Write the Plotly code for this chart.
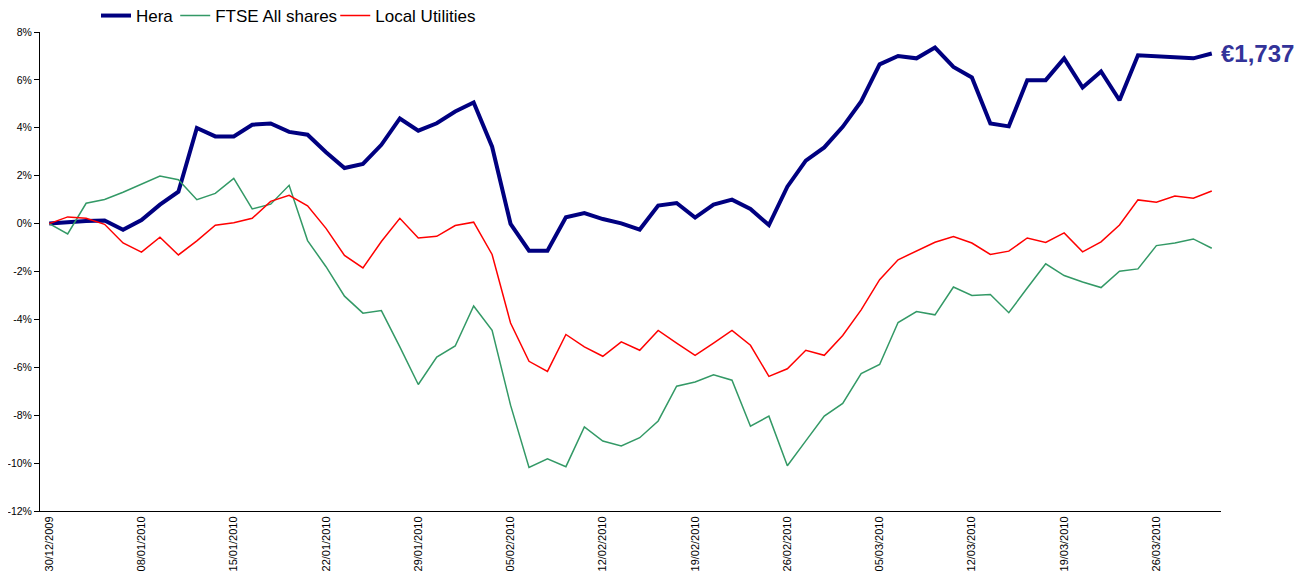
import plotly.graph_objects as go

dates = [
    "30/12/2009", "31/12/2009", "04/01/2010", "05/01/2010", "07/01/2010",
    "08/01/2010", "11/01/2010", "12/01/2010", "13/01/2010", "14/01/2010",
    "15/01/2010", "18/01/2010", "19/01/2010", "20/01/2010", "21/01/2010",
    "22/01/2010", "25/01/2010", "26/01/2010", "27/01/2010", "28/01/2010",
    "29/01/2010", "01/02/2010", "02/02/2010", "03/02/2010", "04/02/2010",
    "05/02/2010", "08/02/2010", "09/02/2010", "10/02/2010", "11/02/2010",
    "12/02/2010", "15/02/2010", "16/02/2010", "17/02/2010", "18/02/2010",
    "19/02/2010", "22/02/2010", "23/02/2010", "24/02/2010", "25/02/2010",
    "26/02/2010", "01/03/2010", "02/03/2010", "03/03/2010", "04/03/2010",
    "05/03/2010", "08/03/2010", "09/03/2010", "10/03/2010", "11/03/2010",
    "12/03/2010", "15/03/2010", "16/03/2010", "17/03/2010", "18/03/2010",
    "19/03/2010", "22/03/2010", "23/03/2010", "24/03/2010", "25/03/2010",
    "26/03/2010", "29/03/2010", "30/03/2010", "31/03/2010",
]

hera = [
    0.00, 0.06, 0.11, 0.13, -0.26, 0.15, 0.79, 1.33, 3.99, 3.64,
    3.64, 4.13, 4.18, 3.83, 3.71, 2.98, 2.32, 2.49, 3.29, 4.39,
    3.88, 4.19, 4.68, 5.06, 3.21, -0.01, -1.13, -1.13, 0.26, 0.44,
    0.19, 0.01, -0.25, 0.75, 0.86, 0.25, 0.79, 1.00, 0.61, -0.06,
    1.54, 2.63, 3.18, 4.04, 5.10, 6.65, 7.00, 6.90, 7.35, 6.54,
    6.10, 4.18, 4.06, 5.99, 5.99, 6.90, 5.68, 6.35, 5.15, 7.03,
    6.98, 6.93, 6.90, 7.10,
]

ftse = [
    0.00, -0.43, 0.85, 1.01, 1.31, 1.65, 1.99, 1.83, 1.00, 1.26,
    1.89, 0.61, 0.81, 1.60, -0.71, -1.80, -3.03, -3.74, -3.63, -5.15,
    -6.72, -5.57, -5.11, -3.44, -4.46, -7.58, -10.18, -9.82, -10.15, -8.49,
    -9.08, -9.28, -8.94, -8.24, -6.79, -6.61, -6.31, -6.54, -8.46, -8.04,
    -10.11, -9.07, -8.04, -7.51, -6.26, -5.88, -4.13, -3.67, -3.81, -2.65,
    -3.00, -2.96, -3.72, -2.69, -1.68, -2.17, -2.44, -2.67, -1.99, -1.89,
    -0.92, -0.81, -0.64, -1.03,
]

local_utilities = [
    0.00, 0.28, 0.22, -0.03, -0.81, -1.19, -0.57, -1.31, -0.72, -0.07,
    0.04, 0.22, 0.93, 1.18, 0.74, -0.20, -1.33, -1.85, -0.75, 0.22,
    -0.60, -0.53, -0.08, 0.06, -1.29, -4.15, -5.75, -6.17, -4.63, -5.15,
    -5.54, -4.94, -5.29, -4.46, -4.99, -5.50, -4.99, -4.46, -5.08, -6.38,
    -6.06, -5.29, -5.50, -4.67, -3.60, -2.34, -1.51, -1.15, -0.78, -0.54,
    -0.81, -1.29, -1.15, -0.60, -0.79, -0.39, -1.18, -0.76, -0.06, 0.99,
    0.89, 1.15, 1.06, 1.36,
]

y_tick_vals = [8, 6, 4, 2, 0, -2, -4, -6, -8, -10, -12]
y_tick_text = ["8%", "6%", "4%", "2%", "0%", "-2%", "-4%", "-6%", "-8%", "-10%", "-12%"]
x_tick_vals = dates[::5]

last_value_label = "€1,737"

FONT = "Arial, Liberation Sans, sans-serif"
LEG_FONT = dict(family=FONT, size=17, color="black")


def legend_at(xpos):
    return dict(orientation="h", x=xpos, xanchor="left", y=1.0334, yanchor="middle",
                font=LEG_FONT, bgcolor="rgba(0,0,0,0)", borderwidth=0,
                itemwidth=30, tracegroupgap=0)


fig = go.Figure()
fig.add_trace(go.Scatter(x=dates, y=hera, name="Hera", mode="lines",
                         line=dict(color="#000080", width=4), legend="legend"))
fig.add_trace(go.Scatter(x=dates, y=ftse, name="FTSE All shares", mode="lines",
                         line=dict(color="#339966", width=1.5), legend="legend2"))
fig.add_trace(go.Scatter(x=dates, y=local_utilities, name="Local Utilities", mode="lines",
                         line=dict(color="#FF0000", width=1.5), legend="legend3"))

fig.add_annotation(x=1.0, xref="paper", y=hera[-1], yref="y", text="<b>" + last_value_label + "</b>",
                   showarrow=False, xanchor="left", yanchor="middle", xshift=-2,
                   font=dict(family=FONT, size=24, color="#333399"))

# page body has an 8px margin, so the figure itself is offset by 8px
fig.update_layout(
    width=1312, height=576,
    margin=dict(l=32, r=99, t=24, b=73, autoexpand=False),
    paper_bgcolor="white", plot_bgcolor="white",
    font=dict(family=FONT, color="black"),
    showlegend=True,
    legend=legend_at(0.0474),
    legend2=legend_at(0.1145),
    legend3=legend_at(0.2500),
    xaxis=dict(type="category", range=[-0.5, len(dates) - 0.5],
               tickmode="array", tickvals=x_tick_vals, ticktext=x_tick_vals,
               tickangle=-90, tickfont=dict(family=FONT, size=11, color="black"),
               showgrid=False, zeroline=False, showline=True, linecolor="black",
               linewidth=1, ticks="", fixedrange=True),
    yaxis=dict(range=[-12, 8], tickmode="array", tickvals=y_tick_vals, ticktext=y_tick_text,
               tickfont=dict(family=FONT, size=10.5, color="black"),
               showgrid=False, zeroline=False, showline=True, linecolor="black",
               linewidth=1, ticks="outside", ticklen=5, tickcolor="black", fixedrange=True),
)

fig.write_html("out.html")
